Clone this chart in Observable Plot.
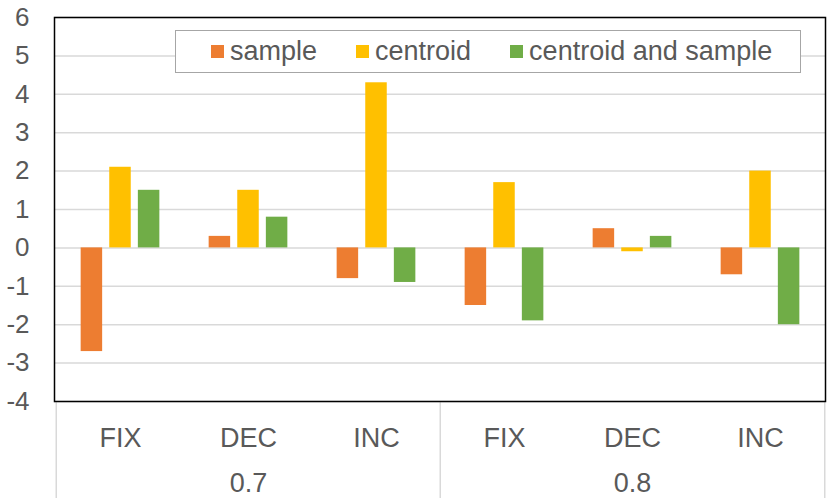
<!DOCTYPE html>
<html>
<head>
<meta charset="utf-8">
<script src="https://cdn.jsdelivr.net/npm/d3@7"></script>
<script src="https://cdn.jsdelivr.net/npm/@observablehq/plot@0.6"></script>
<style>
  html, body { margin: 0; padding: 0; background: #fff; }
  #wrap { position: relative; width: 830px; height: 498px; font-family: "Liberation Sans", Arial, sans-serif; }
  #legend {
    position: absolute; left: 175px; top: 30px; width: 626px; height: 43px;
    border: 1px solid #a6a6a6; background: #fff;
    display: flex; align-items: center; justify-content: flex-start;
    box-sizing: border-box; padding-left: 35px;
    font-size: 27px; color: #595959;
  }
  .item { display: flex; align-items: center; margin-right: 39px; white-space: nowrap; }
  .sw { width: 13px; height: 13px; margin-right: 6px; }
</style>
</head>
<body>
<div id="wrap"></div>
<script>
const groups = ["0.7", "0.7", "0.7", "0.8", "0.8", "0.8"];
const methods = ["FIX", "DEC", "INC", "FIX", "DEC", "INC"];
const seriesNames = ["sample", "centroid", "centroid and sample"];
const seriesColors = ["#ED7D31", "#FFC000", "#70AD47"];
const sampleValues = [-2.7, 0.3, -0.8, -1.5, 0.5, -0.7];
const centroidValues = [2.1, 1.5, 4.3, 1.7, -0.1, 2.0];
const centroidSampleValues = [1.5, 0.8, -0.9, -1.9, 0.3, -2.0];
const yTicks = [-4, -3, -2, -1, 0, 1, 2, 3, 4, 5, 6];

const keys = groups.map((g, i) => g + "|" + methods[i]);
const valueLists = [sampleValues, centroidValues, centroidSampleValues];
const rows = [];
seriesNames.forEach((s, j) => {
  valueLists[j].forEach((v, i) => rows.push({key: keys[i], series: s, value: v}));
});

const groupNames = Array.from(new Set(groups));
const groupCenters = groupNames.map(g => keys[groups.indexOf(g) + 1]);
const groupStarts = groupNames.map(g => keys[groups.indexOf(g)]);

const W = 830, H = 498, mL = 54, mR = 5, mT = 17, mB = 97;
const bw = (W - mL - mR) / keys.length;
const barW = 22, step = 28.6;
const inset = (bw - barW) / 2;

const chart = Plot.plot({
  width: W, height: H,
  marginLeft: mL, marginRight: mR, marginTop: mT, marginBottom: mB,
  style: {fontFamily: "Liberation Sans, Arial, sans-serif", fontSize: "26px", color: "#595959", background: "#fff"},
  x: {domain: keys, padding: 0, axis: null},
  y: {domain: [-4, 6], axis: null},
  color: {domain: seriesNames, range: seriesColors},
  marks: [
    Plot.gridY(yTicks, {stroke: "#d9d9d9", strokeOpacity: 1, strokeWidth: 1.5}),
    ...seriesNames.map((s, j) => Plot.barY(rows.filter(d => d.series === s), {
      x: "key", y: "value", fill: "series",
      dx: (j - 1) * step, insetLeft: inset, insetRight: inset
    })),
    Plot.ruleX(groupStarts, {x: d => d, dx: -bw / 2, stroke: "#d9d9d9", strokeWidth: 1.5, insetTop: H - mT - mB, insetBottom: -mB}),
    Plot.ruleX([keys[keys.length - 1]], {x: d => d, dx: bw / 2, stroke: "#d9d9d9", strokeWidth: 1.5, insetTop: H - mT - mB, insetBottom: -mB}),
    Plot.frame({stroke: "#000", strokeWidth: 1.5}),
    Plot.axisY(yTicks, {tickSize: 0, tickPadding: 25, fontSize: 26, fill: "#595959", tickFormat: d => d.toString(), label: null}),
    Plot.axisX(keys, {tickSize: 0, tickPadding: 26, fontSize: 27, fill: "#595959", tickFormat: k => k.split("|")[1], label: null}),
    Plot.text(groupCenters, {x: d => d, text: d => d.split("|")[0], frameAnchor: "bottom", lineAnchor: "top", dy: 71, fontSize: 27, fill: "#595959"})
  ]
});

const wrap = document.getElementById("wrap");
wrap.appendChild(chart);
const legend = document.createElement("div");
legend.id = "legend";
seriesNames.forEach((s, j) => {
  const item = document.createElement("div");
  item.className = "item";
  const sw = document.createElement("span");
  sw.className = "sw";
  sw.style.background = seriesColors[j];
  const t = document.createElement("span");
  t.textContent = s;
  item.appendChild(sw); item.appendChild(t);
  legend.appendChild(item);
});
wrap.appendChild(legend);
</script>
</body>
</html>
